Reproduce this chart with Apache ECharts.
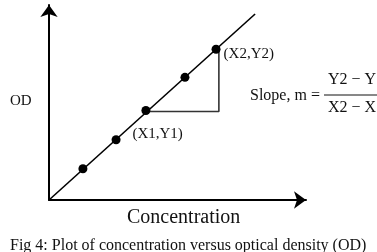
<!DOCTYPE html>
<html>
<head>
<meta charset="utf-8">
<script src="https://cdn.jsdelivr.net/npm/echarts@6/dist/echarts.min.js"></script>
<style>
  html, body { margin: 0; padding: 0; background: #fff; }
  #chart { width: 377px; height: 252px; }
</style>
</head>
<body>
<div id="chart"></div>
<script>
// Data (arbitrary units, axes run 0..10)
const pointX = [1.32, 2.61, 3.77, 5.29, 6.50];
const pointY = [1.60, 3.09, 4.59, 6.29, 7.73];
const fitLine = [[0, 0], [8.02, 9.54]];
const slopeTriangle = [[3.77, 4.54], [6.61, 4.54], [6.61, 7.73]];
const pointLabels = { 2: '(X1,Y1)', 4: '(X2,Y2)' };

const serif = '"Liberation Serif", "DejaVu Serif", serif';

const chart = echarts.init(document.getElementById('chart'));

const scatterData = pointX.map((x, i) => {
  const item = { value: [x, pointY[i]] };
  if (i === 4) {
    item.label = {
      show: true, formatter: pointLabels[i], position: 'right', distance: 3,
      offset: [0, 5], color: '#111', fontFamily: serif, fontSize: 15
    };
  }
  if (i === 2) {
    item.label = {
      show: true, formatter: pointLabels[i], position: [-9, 28],
      align: 'left', verticalAlign: 'middle', color: '#111', fontFamily: serif, fontSize: 15
    };
  }
  return item;
});

const axisCommon = {
  type: 'value',
  min: 0,
  max: 10,
  axisLine: {
    show: true,
    symbol: ['none', 'arrow'],
    symbolSize: [13, 12],
    lineStyle: { color: '#000', width: 2 }
  },
  axisTick: { show: false },
  axisLabel: { show: false },
  splitLine: { show: false }
};

const option = {
  animation: false,
  backgroundColor: '#fff',
  grid: { left: 49, right: 71, top: 5, bottom: 52 },
  xAxis: Object.assign({}, axisCommon),
  yAxis: Object.assign({}, axisCommon),
  graphic: [
    { type: 'text', left: 10, top: 94, style: { text: 'OD', font: '15px ' + serif, fill: '#111' } },
    { type: 'text', left: 127, top: 208, style: { text: 'Concentration', font: '20px ' + serif, fill: '#111' } },
    { type: 'text', left: 10, top: 238, style: { text: 'Fig 4: Plot of concentration versus optical density (OD)', font: '16px ' + serif, fill: '#111' } },
    { type: 'text', left: 250, top: 88, style: { text: 'Slope, m =', font: '16px ' + serif, fill: '#111' } },
    { type: 'text', left: 328, top: 72, style: { text: 'Y2 \u2212 Y1', font: '16px ' + serif, fill: '#111' } },
    { type: 'text', left: 328, top: 100, style: { text: 'X2 \u2212 X1', font: '16px ' + serif, fill: '#111' } },
    { type: 'line', shape: { x1: 324, y1: 95, x2: 377, y2: 95 }, style: { stroke: '#111', lineWidth: 1 } }
  ],
  series: [
    {
      type: 'line',
      data: fitLine,
      symbol: 'none',
      lineStyle: { color: '#000', width: 1.6 },
      z: 2
    },
    {
      type: 'line',
      data: slopeTriangle,
      symbol: 'none',
      lineStyle: { color: '#333', width: 1.6 },
      z: 2
    },
    {
      type: 'scatter',
      data: scatterData,
      symbol: 'circle',
      symbolSize: 9,
      itemStyle: { color: '#000', opacity: 1 },
      z: 3
    }
  ]
};

chart.setOption(option);
</script>
</body>
</html>
